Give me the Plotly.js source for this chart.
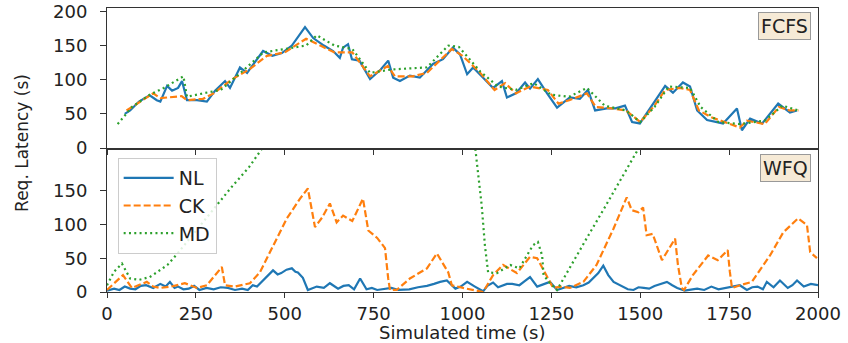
<!DOCTYPE html>
<html>
<head>
<meta charset="utf-8">
<script src="https://cdn.plot.ly/plotly-3.0.1.min.js"></script>
<style>html,body{margin:0;padding:0;background:#fff;}#chart{width:848px;height:343px;}</style>
</head>
<body>
<div id="chart"></div>
<script>
// ---- FCFS (top panel) ----
const fcfsNLTime = [50,65,90,120,140,150,169,183,200,211,225,253,281,304,332,346,374,394,439,465,492,520,557,580,610,636,655,664,678,689,710,740,770,791,805,824,852,880,917,945,973,993,1013,1030,1058,1086,1111,1125,1150,1176,1190,1212,1238,1266,1302,1330,1353,1373,1406,1430,1457,1477,1499,1536,1570,1592,1620,1640,1660,1688,1733,1772,1786,1809,1843,1888,1905,1921,1941];
const fcfsNL     = [50,55,68,77,70,68,91,84,88,98,70,70,68,84,98,88,118,110,142,135,139,150,177,161,150,142,132,147,152,130,128,101,115,128,103,98,106,103,123,130,147,137,108,118,103,88,98,74,80,96,87,101,80,59,74,72,85,55,58,58,62,38,36,65,91,81,96,90,55,41,36,58,26,43,36,65,58,52,55];
const fcfsCKTime = [55,100,130,150,210,225,270,300,350,400,450,500,560,600,640,690,740,790,810,860,900,970,1000,1050,1090,1120,1150,1190,1240,1270,1300,1350,1375,1420,1460,1500,1540,1570,1610,1640,1665,1700,1740,1780,1800,1850,1890,1920,1945];
const fcfsCK     = [55,70,80,73,76,70,72,80,100,115,135,140,160,150,140,140,105,120,105,105,110,145,135,110,85,95,80,90,85,65,70,80,60,58,55,38,62,85,88,85,55,45,38,30,40,35,60,55,55];
const fcfsMDTime = [30,70,120,160,215,225,270,320,380,440,500,560,590,640,690,740,800,900,960,990,1050,1100,1150,1200,1250,1300,1350,1400,1460,1500,1540,1580,1640,1670,1720,1780,1850,1900,1945];
const fcfsMD     = [35,60,78,88,105,75,80,85,112,140,145,150,165,150,145,110,115,118,150,148,112,90,85,95,78,75,88,62,55,38,60,90,88,60,38,35,40,62,55];

// ---- WFQ (bottom panel) ----
const wfqNLTime = [0,20,35,50,65,80,95,110,130,150,165,177,190,200,215,230,245,260,280,300,320,340,360,380,396,410,422,445,467,480,490,505,520,530,537,551,565,590,610,627,650,665,680,695,712,730,745,760,780,800,820,850,875,900,920,937,956,970,980,995,1013,1035,1058,1070,1086,1100,1110,1125,1140,1160,1175,1190,1210,1230,1246,1266,1285,1300,1320,1340,1355,1368,1382,1396,1410,1425,1450,1465,1481,1495,1510,1525,1540,1560,1575,1590,1604,1625,1645,1660,1680,1700,1720,1740,1760,1780,1800,1815,1830,1845,1856,1875,1893,1915,1928,1941,1960,1980,2000];
const wfqNL     = [2,5,3,8,5,4,9,10,6,12,8,15,6,8,4,5,9,3,6,4,7,6,3,5,3,10,8,20,32,26,28,33,35,30,29,21,3,8,6,13,5,9,10,4,20,4,6,3,5,6,3,4,7,9,12,15,17,10,5,8,15,8,1,9,14,7,9,12,12,10,16,22,8,12,15,3,6,9,7,10,14,21,28,39,25,15,8,4,3,7,6,5,9,12,15,10,6,2,4,5,3,8,4,6,9,10,3,7,8,4,15,7,17,6,10,17,8,12,10];
const wfqCKTime = [0,25,45,70,90,112,130,149,180,219,253,281,323,332,360,402,430,467,506,543,565,585,605,627,646,664,690,720,735,760,782,791,796,815,852,900,928,960,970,1002,1058,1086,1114,1153,1190,1210,1228,1255,1280,1302,1340,1377,1425,1462,1476,1495,1508,1518,1535,1561,1598,1606,1617,1623,1648,1691,1718,1746,1752,1758,1781,1814,1865,1902,1944,1969,1978,1997];
const wfqCK     = [3,15,25,6,10,15,8,6,8,13,6,10,37,10,8,13,29,69,109,138,153,96,110,131,103,113,105,138,91,80,65,20,3,3,20,35,57,29,10,6,0,25,40,28,52,50,32,6,8,6,15,40,94,140,121,118,125,84,86,47,79,40,6,3,25,54,47,62,30,6,10,15,54,88,109,99,59,50];
const wfqMDTime = [0,20,42,65,90,120,140,170,200,250,300,350,400,440,600,800,1000,1030,1045,1054,1063,1072,1097,1134,1160,1198,1212,1224,1228,1246,1266,1300,1350,1400,1450,1490,1700,2000];
const wfqMD     = [10,30,42,20,18,22,29,40,58,90,122,155,185,215,320,450,550,240,168,128,69,29,28,40,35,69,74,54,25,13,3,35,80,125,170,205,400,600];

const seriesNames = ['NL','CK','MD'];
const panelLabels = ['FCFS','WFQ'];
const xTicks = [0,250,500,750,1000,1250,1500,1750,2000];
const yTicksTop = [0,50,100,150,200];
const yTicksBottom = [0,50,100,150];

const colors = ['#1f77b4','#ff7f0e','#2ca02c'];
const dashes = ['solid','7px,3px','2px,3.3px'];
const font = 'DejaVu Sans, sans-serif';

function tr(x, y, i, xa, ya, show) {
  return {x: x, y: y, type: 'scatter', mode: 'lines', name: seriesNames[i],
    xaxis: xa, yaxis: ya, showlegend: show,
    line: {color: colors[i], width: 2.2, dash: dashes[i]}};
}
const data = [
  tr(fcfsNLTime, fcfsNL, 0, 'x', 'y', false),
  tr(fcfsCKTime, fcfsCK, 1, 'x', 'y', false),
  tr(fcfsMDTime, fcfsMD, 2, 'x', 'y', false),
  tr(wfqNLTime, wfqNL, 0, 'x2', 'y2', true),
  tr(wfqCKTime, wfqCK, 1, 'x2', 'y2', true),
  tr(wfqMDTime, wfqMD, 2, 'x2', 'y2', true)
];

const axisCommon = {showgrid: false, zeroline: false, showline: true, mirror: true,
  linecolor: '#333', linewidth: 1, ticks: 'outside', ticklen: 6, tickcolor: '#333',
  tickfont: {family: font, size: 18, color: '#222'}};

const layout = {
  width: 848, height: 343,
  margin: {l: 107, r: 30, t: 8, b: 51},
  paper_bgcolor: '#fff', plot_bgcolor: '#fff',
  font: {family: font, color: '#222'},
  xaxis: Object.assign({}, axisCommon, {domain: [0,1], anchor: 'y', range: [0,2000], tickvals: xTicks, showticklabels: false}),
  yaxis: Object.assign({}, axisCommon, {domain: [0.507,1], anchor: 'x', range: [0,205], tickvals: yTicksTop, ticklabelstandoff: 9}),
  xaxis2: Object.assign({}, axisCommon, {domain: [0,1], anchor: 'y2', range: [0,2000], tickvals: xTicks, ticklen: 5}),
  yaxis2: Object.assign({}, axisCommon, {domain: [0,0.5], anchor: 'x2', range: [0,210], tickvals: yTicksBottom, ticklabelstandoff: 9}),
  legend: {x: 0.015, y: 0.472, xref: 'paper', yref: 'paper', xanchor: 'left', yanchor: 'top',
    bgcolor: 'rgba(255,255,255,0.85)', bordercolor: '#ccc', borderwidth: 1,
    font: {family: font, size: 19, color: '#222'}, itemwidth: 50, tracegroupgap: 0},
  annotations: [
    {text: panelLabels[0], xref: 'x domain', yref: 'y domain', x: 0.99, y: 0.97, xanchor: 'right', yanchor: 'top',
     showarrow: false, font: {family: font, size: 19, color: '#222'}, bgcolor: '#f6ead6', bordercolor: '#999', borderwidth: 1, borderpad: 2},
    {text: panelLabels[1], xref: 'x2 domain', yref: 'y2 domain', x: 0.99, y: 0.97, xanchor: 'right', yanchor: 'top',
     showarrow: false, font: {family: font, size: 19, color: '#222'}, bgcolor: '#f6ead6', bordercolor: '#999', borderwidth: 1, borderpad: 2},
    {text: 'Simulated time (s)', xref: 'paper', yref: 'paper', x: 0.5, y: 0, yshift: -29,
     xanchor: 'center', yanchor: 'top', showarrow: false, borderpad: 0, font: {family: font, size: 18, color: '#222'}},
    {text: 'Req. Latency (s)', xref: 'paper', yref: 'paper', x: 0, y: 0.525, xshift: -85, textangle: -90,
     xanchor: 'center', yanchor: 'middle', showarrow: false, font: {family: font, size: 17, color: '#222'}}
  ]
};

Plotly.newPlot('chart', data, layout, {displayModeBar: false, staticPlot: true});
</script>
</body>
</html>
